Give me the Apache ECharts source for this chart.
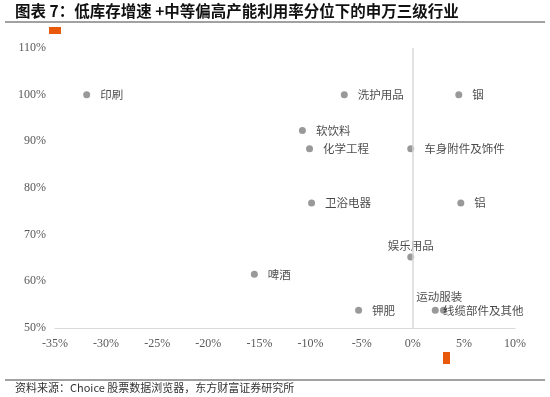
<!DOCTYPE html>
<html><head><meta charset="utf-8">
<script src="https://cdn.jsdelivr.net/npm/echarts@6/dist/echarts.min.js"></script>
<style>html,body{margin:0;padding:0;background:#fff}#c{width:550px;height:397px}</style>
</head><body><div id="c"></div>
<script>
const names = ['印刷','洗护用品','铟','软饮料','化学工程','车身附件及饰件','卫浴电器','铝','娱乐用品','啤酒','钾肥','运动服装','线缆部件及其他'];
const inventoryGrowth = [-31.9,-6.7,4.5,-10.8,-10.1,-0.2,-9.9,4.7,-0.2,-15.5,-5.3,2.2,3.0];
const utilizationPct = [100,100,100,92.3,88.4,88.4,76.8,76.8,65.2,61.5,53.8,53.8,53.8];
const labelPos = ['right','right','right','right','right','right','right','right','top','right','right','top','right'];
const xTicks = {min:-35,max:10,interval:5};
const yTicks = {min:50,max:110,interval:10};

const serif = '"Liberation Serif","DejaVu Serif",serif';
const cjk = '"Noto Sans CJK SC",sans-serif';

const data = names.map((n,i)=>{
  const d = {name:n, value:[inventoryGrowth[i], utilizationPct[i]], label:{position:labelPos[i]}};
  if (labelPos[i]==='top') d.label.distance = (n==='运动服装'?4:2);
  if (n==='运动服装') d.label.offset = [4,0];
  if (n==='线缆部件及其他') d.label.distance = -4;
  return d;
});

const chart = echarts.init(document.getElementById('c'));
chart.setOption({
  backgroundColor:'#fff',
  animation:false,
  grid:{left:55,right:35,top:48,bottom:69},
  xAxis:{type:'value',min:xTicks.min,max:xTicks.max,interval:xTicks.interval,
    axisLine:{onZero:false,lineStyle:{color:'#d9d9d9',width:1}},
    axisTick:{show:false},splitLine:{show:false},
    axisLabel:{formatter:v=>v+'%',color:'#595959',fontFamily:serif,fontSize:12,margin:10}},
  yAxis:{type:'value',min:yTicks.min,max:yTicks.max,interval:yTicks.interval,
    axisLine:{show:false},axisTick:{show:false},splitLine:{show:false},
    axisLabel:{formatter:v=>v+'%',color:'#595959',fontFamily:serif,fontSize:12,margin:9}},
  series:[{type:'scatter',data:data,symbolSize:7,
    itemStyle:{color:'#7f7f7f'},
    label:{show:true,formatter:p=>p.name,color:'#1a1a1a',fontFamily:cjk,fontSize:11.5,distance:10},
    markLine:{silent:true,symbol:'none',label:{show:false},
      lineStyle:{color:'#d9d9d9',width:1.5,type:'solid'},
      data:[{xAxis:0}]}
  }],
  graphic:[
    {type:'text',left:15,top:3,style:{text:'图表 7：低库存增速 +中等偏高产能利用率分位下的申万三级行业',font:'bold 15.5px "Noto Sans CJK SC",sans-serif',fill:'#111'}},
    {type:'line',shape:{x1:5,y1:22,x2:545,y2:22},style:{stroke:'#444',lineWidth:1}},
    {type:'rect',shape:{x:49,y:27,width:12,height:7},style:{fill:'#E8590C'}},
    {type:'rect',shape:{x:443,y:352,width:7,height:12},style:{fill:'#E8590C'}},
    {type:'line',shape:{x1:5,y1:380,x2:545,y2:380},style:{stroke:'#444',lineWidth:1}},
    {type:'text',left:15,top:382,style:{text:'资料来源：Choice 股票数据浏览器，东方财富证券研究所',font:'11px "Noto Sans CJK SC",sans-serif',fill:'#333'}}
  ]
});
</script></body></html>
